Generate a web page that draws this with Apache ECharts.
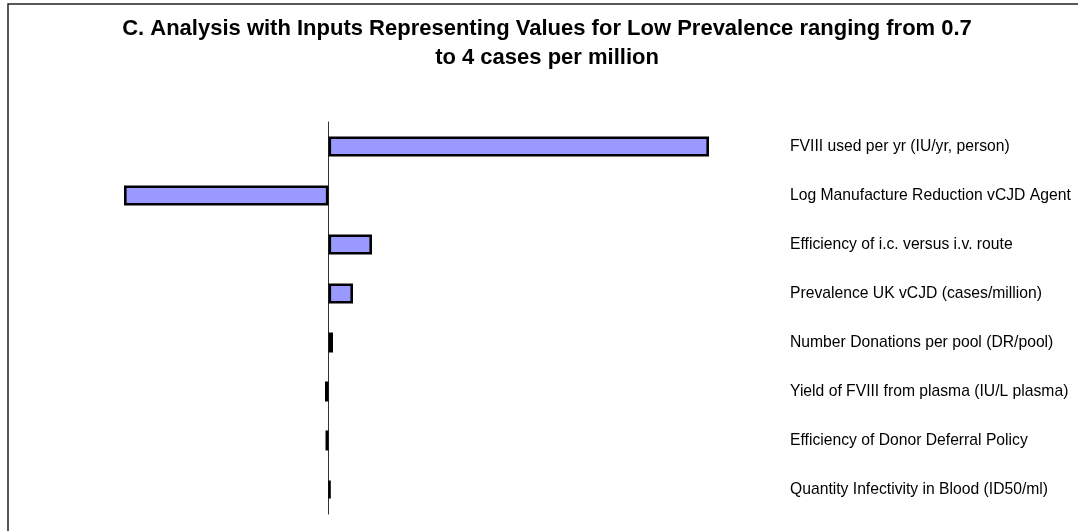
<!DOCTYPE html>
<html>
<head>
<meta charset="utf-8">
<script src="https://cdn.jsdelivr.net/npm/echarts@6/dist/echarts.min.js"></script>
<style>
  html, body { margin: 0; padding: 0; background: #fff; }
  #chart { width: 1078px; height: 531px; }
</style>
</head>
<body>
<div id="chart"></div>
<script>
var categories = [
  "FVIII used per yr (IU/yr, person)",
  "Log Manufacture Reduction vCJD Agent",
  "Efficiency of i.c. versus i.v. route",
  "Prevalence UK vCJD (cases/million)",
  "Number Donations per pool (DR/pool)",
  "Yield of FVIII from plasma (IU/L plasma)",
  "Efficiency of Donor Deferral Policy",
  "Quantity Infectivity in Blood (ID50/ml)"
];
// change in outcome for each input
var impact = [380.5, -204.5, 43.5, 24.5, 4.5, -3.5, -3, 2];

var chart = echarts.init(document.getElementById("chart"));
chart.setOption({
  animation: false,
  backgroundColor: "#fff",
  textStyle: { fontFamily: "Liberation Sans, Arial, sans-serif" },
  title: {
    text: "C. Analysis with Inputs Representing Values for Low Prevalence ranging from 0.7\nto 4 cases per million",
    left: 542,
    top: 9,
    textAlign: "center",
    textStyle: {
      fontFamily: "Liberation Sans, Arial, sans-serif",
      fontSize: 22,
      fontWeight: "bold",
      color: "#000",
      lineHeight: 29
    }
  },
  graphic: [
    {
      type: "rect",
      shape: { x: 8, y: 4, width: 1100, height: 600 },
      style: { fill: "none", stroke: "#222", lineWidth: 1.5 },
      silent: true
    }
  ],
  grid: { left: 108.5, right: 290, top: 122, bottom: 17 },
  xAxis: {
    type: "value",
    min: -220,
    max: 459.5,
    show: false
  },
  yAxis: [
    {
      type: "category",
      data: categories,
      inverse: true,
      axisLine: { onZero: true, lineStyle: { color: "#333", width: 1 } },
      axisTick: { show: false },
      axisLabel: { show: false },
      splitLine: { show: false }
    },
    {
      type: "category",
      data: categories,
      inverse: true,
      position: "right",
      axisLine: { show: false },
      axisTick: { show: false },
      splitLine: { show: false },
      axisLabel: {
        margin: 2,
        align: "left",
        color: "#000",
        fontSize: 15.7,
        fontFamily: "Liberation Sans, Arial, sans-serif"
      }
    }
  ],
  series: [
    {
      type: "bar",
      yAxisIndex: 0,
      data: impact,
      barWidth: 20,
      itemStyle: {
        color: "#9999ff",
        borderColor: "#000",
        borderWidth: 2.6
      }
    }
  ]
});
</script>
</body>
</html>
